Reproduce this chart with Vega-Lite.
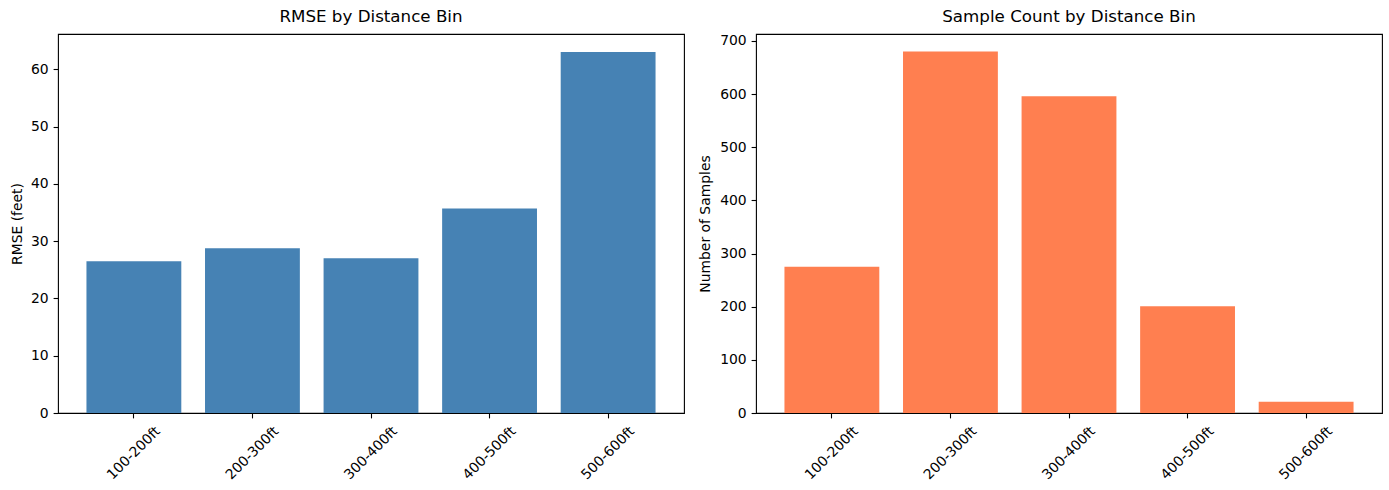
{
  "$schema": "https://vega.github.io/schema/vega-lite/v6.json",
  "padding": {"left": 9, "top": 8, "right": 0, "bottom": 0},
  "spacing": 12,
  "config": {
    "font": "DejaVu Sans",
    "view": {"stroke": "black", "strokeWidth": 1.1},
    "axis": {
      "domain": false,
      "grid": false,
      "tickColor": "black",
      "tickSize": 4.9,
      "tickWidth": 1.1,
      "labelColor": "black",
      "labelFontSize": 13.9,
      "labelFont": "DejaVu Sans",
      "titleFont": "DejaVu Sans",
      "titleFontSize": 13.9,
      "titleFontWeight": "normal",
      "titleColor": "black"
    },
    "axisX": {
      "labelAngle": -45,
      "labelAlign": "center",
      "labelBaseline": "middle",
      "labelPadding": 35
    },
    "axisY": {
      "labelPadding": 4.9
    },
    "title": {"fontSize": 16.7, "fontWeight": "normal", "font": "DejaVu Sans", "color": "black", "offset": 8},
    "scale": {"bandPaddingInner": 0.2, "bandPaddingOuter": 0.24}
  },
  "datasets": {
    "bins": [
      {"bin": "100-200ft", "rmse": 26.5, "count": 275},
      {"bin": "200-300ft", "rmse": 28.75, "count": 680},
      {"bin": "300-400ft", "rmse": 27.0, "count": 596},
      {"bin": "400-500ft", "rmse": 35.7, "count": 201},
      {"bin": "500-600ft", "rmse": 63.0, "count": 21}
    ]
  },
  "hconcat": [
    {
      "title": "RMSE by Distance Bin",
      "width": 626,
      "height": 379,
      "data": {"name": "bins"},
      "mark": {"type": "bar", "color": "#4682b4"},
      "encoding": {
        "x": {"field": "bin", "type": "nominal", "sort": null, "axis": {"title": null}},
        "y": {
          "field": "rmse", "type": "quantitative",
          "scale": {"domain": [0, 66.15], "nice": false},
          "axis": {"title": "RMSE (feet)", "values": [0, 10, 20, 30, 40, 50, 60], "minExtent": 26, "maxExtent": 26, "titlePadding": 8}
        }
      }
    },
    {
      "title": "Sample Count by Distance Bin",
      "width": 626,
      "height": 379,
      "data": {"name": "bins"},
      "mark": {"type": "bar", "color": "#ff7f50"},
      "encoding": {
        "x": {"field": "bin", "type": "nominal", "sort": null, "axis": {"title": null}},
        "y": {
          "field": "count", "type": "quantitative",
          "scale": {"domain": [0, 713], "nice": false},
          "axis": {"title": "Number of Samples", "values": [0, 100, 200, 300, 400, 500, 600, 700], "minExtent": 37, "maxExtent": 37, "titlePadding": 7}
        }
      }
    }
  ]
}
